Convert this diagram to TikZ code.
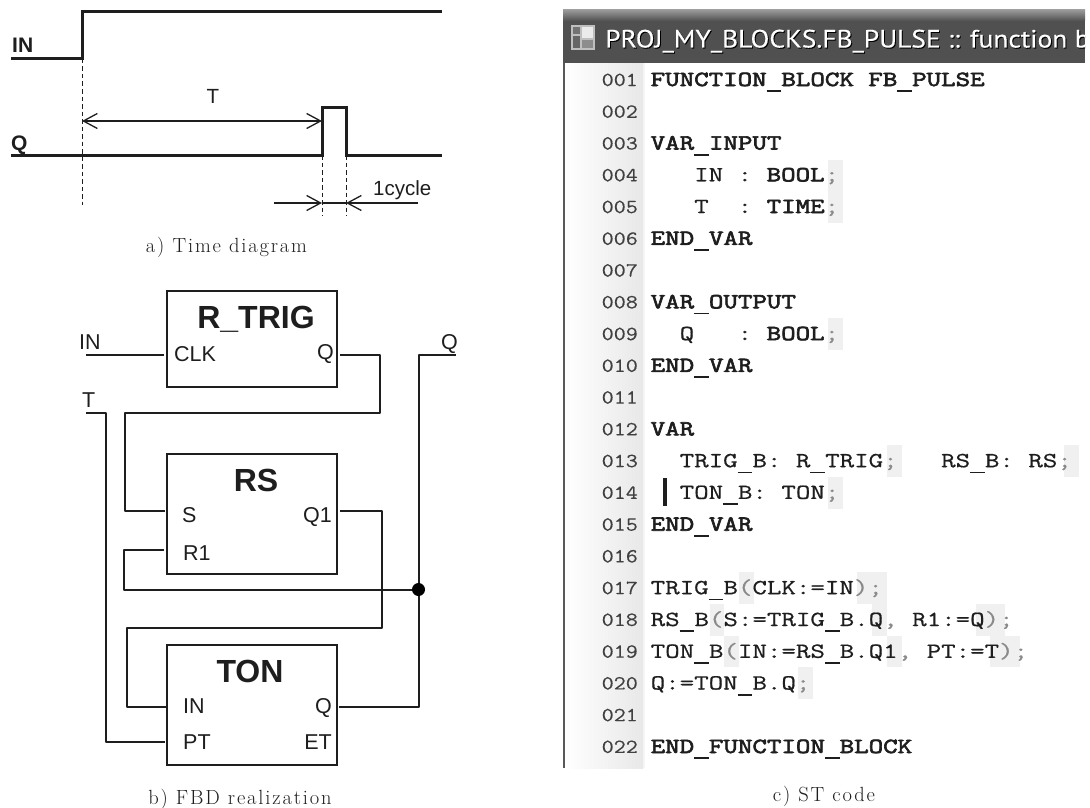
\documentclass[tikz,border=0pt]{standalone}
\usepackage{fontspec}
\usetikzlibrary{arrows.meta}
\setmainfont{Liberation Sans}
\newfontfamily\capfam[LetterSpace=9]{Latin Modern Roman}
\newfontfamily\regfam[FakeStretch=1.309,FakeBold=0.7]{Latin Modern Mono}
\newfontfamily\boldfam[FakeStretch=1.309,FakeBold=3]{Latin Modern Mono}
\newfontfamily\numfam[FakeStretch=1.17,FakeBold=0.3]{Latin Modern Mono}
\newfontfamily\titlefam[FakeStretch=1.10,FakeBold=0.3]{PT Sans}
\newcommand\psz[1]{\fontsize{#1}{#1}\selectfont}
\newcommand\B[1]{{\boldfam #1}}
\newcommand\G[1]{\textcolor{punct}{#1}}
\newcommand\U{\makebox[14.78pt]{\rule[-6pt]{14.8pt}{1.6pt}}}
\newcommand\hlc[4]{\fill[hl] ({650.5+14.78*#1},#3) rectangle ({650.5+14.78*#2},#4);}
\definecolor{ink}{HTML}{1E1E1E}
\definecolor{punct}{HTML}{8A8A8A}
\definecolor{hili}{HTML}{F0F0F0}
\definecolor{titlebar}{HTML}{505050}
\tikzset{
  sig/.style={line width=3pt,draw=ink,line join=miter},
  dashline/.style={line width=.9pt,draw=ink,dash pattern=on 4.5pt off 3pt},
  dim/.style={line width=1.3pt,draw=ink},
  wire/.style={line width=2pt,draw=ink,line join=round},
  block/.style={draw=ink,line width=2.8pt,inner sep=0pt,minimum width=170pt,fill=white},
  lab/.style={inner sep=0pt,text=ink,anchor=base,font=\psz{21.5}},
  labl/.style={lab,anchor=base west},
  labr/.style={lab,anchor=base east},
  head/.style={lab,font=\psz{32}\bfseries},
  tsig/.style={labl,font=\psz{21}\bfseries},
  caption/.style={inner sep=0pt,anchor=base,text=ink,font=\psz{20.5}\capfam},
  code/.style={inner sep=0pt,anchor=base west,text=ink,font=\psz{21.5}\regfam},
  lnum/.style={inner sep=0pt,anchor=base west,text=black!75,font=\psz{20}\numfam},
  hl/.style={fill=hili,draw=none},
}
\begin{document}
\begin{tikzpicture}[x=1pt,y=-1pt]
\useasboundingbox (0,0) rectangle (1090,808);
\fill[white] (0,0) rectangle (1090,808);

% ---------- a) time diagram
\coordinate (inA) at (11,59); \coordinate (inB) at (82,59);
\coordinate (inC) at (82,12); \coordinate (inD) at (442,12);
\coordinate (qA) at (11,155); \coordinate (qB) at (322,155);
\coordinate (qC) at (322,107); \coordinate (qD) at (346,107);
\coordinate (qE) at (346,155); \coordinate (qF) at (442,155);
\coordinate (dA) at (82,205); \coordinate (dB) at (322,216); \coordinate (dC) at (346,216);
\coordinate (tA) at (82,121); \coordinate (tB) at (322,121);
\coordinate (cA) at (274,203); \coordinate (cB) at (322,203);
\coordinate (cC) at (346,203); \coordinate (cD) at (418,203);
\draw[dashline] (inB) -- (dA);
\draw[dashline] (qB) -- (dB);
\draw[dashline] (qE) -- (dC);
\draw[sig] (inA) -- (inB) -- (inC) -- (inD);
\draw[sig] (qA) -- (qB) -- (qC) -- (qD) -- (qE) -- (qF);
\draw[dim,{Straight Barb[length=14pt,width=15pt]}-{Straight Barb[length=14pt,width=15pt]}] (tA) -- (tB);
\draw[dim,-{Straight Barb[length=14pt,width=15pt]}] (cA) -- (cB);
\draw[dim,-{Straight Barb[length=14pt,width=15pt]}] (cD) -- (cC);
\draw[dim] (cB) -- (cC);
\node[tsig] (tIN) at (12,53) {IN};
\node[tsig] (tQ) at (11,150) {Q};
\node[lab,font=\psz{20.5}] (tT) at (213,103) {T};
\node[labl,font=\psz{20.5}] (tCy) at (373,195) {1cycle};
\node[caption] (capA) at (226.5,252) {a) Time diagram};

% ---------- b) FBD
\node[block,minimum height=96pt] (trig) at (252,339) {};
\node[block,minimum height=120pt] (rs) at (252,514) {};
\node[block,minimum height=120pt] (ton) at (252,705) {};
\node[head] (trigN) at (256,328) {R\_TRIG};
\node[head] (rsN) at (256,491) {RS};
\node[head] (tonN) at (250,682) {TON};
\node[labl] (pClk) at (174,361) {CLK};
\node[labr] (pQa) at (334,359) {Q};
\node[labl] (pS) at (182,522) {S};
\node[labr] (pQ1) at (332,522) {Q1};
\node[labl] (pR1) at (183,560) {R1};
\node[labl] (pIN) at (183,713) {IN};
\node[labr] (pQb) at (332,713) {Q};
\node[labl] (pPT) at (183,749) {PT};
\node[labr] (pET) at (332,749) {ET};
\node[labl] (fIN) at (79,349) {IN};
\node[labl] (fT) at (82,407) {T};
\node[labl] (fQ) at (441,349) {Q};
\coordinate (wInS) at (86,355); \coordinate (wInE) at (164,355);
\coordinate (wQaS) at (340,355); \coordinate (wSE) at (165,511);
\coordinate (wTS) at (86,413); \coordinate (wPT) at (165,742);
\coordinate (wR1) at (164,550); \coordinate (wQ1S) at (340,511);
\coordinate (wTIn) at (167,706.5); \coordinate (wQbS) at (339,706.5);
\coordinate (wQE) at (456,355);
\coordinate (jn) at (418.5,589.5);
\draw[wire] (wInS) -- (wInE);
\draw[wire] (wQaS) -- (380,355) -- (380,413) -- (125,413) -- (125,511) -- (wSE);
\draw[wire] (wTS) -- (106,413) -- (106,742) -- (wPT);
\draw[wire] (wR1) -- (124,550) -- (124,589.5) -- (jn);
\draw[wire] (wQ1S) -- (381.5,511) -- (381.5,628) -- (127,628) -- (127,706.5) -- (wTIn);
\draw[wire] (wQbS) -- (418.5,706.5) -- (418.5,355) -- (wQE);
\fill[black] (jn) circle (6.5);
\node[caption] (capB) at (240,804) {b) FBD realization};

% ---------- c) ST code
\begin{scope}
\clip (0,0) rectangle (1085,808);
\shade[left color=white,right color=black!9] (565,63) rectangle (643,768);
\fill[black!4] (643,63) rectangle (644.5,768);
\fill[black!65] (563,63) rectangle (565,768);
\fill[titlebar] (563,21) rectangle (1085,63);
\shade[top color=black!40,bottom color=titlebar] (563,10) rectangle (1085,21);
% icon
\fill[black!25] (571,25) rectangle (595,50);
\fill[black!55] (573,27) rectangle (580,34);
\fill[black!8] (582,27) rectangle (593,38);
\fill[black!60] (573,36) rectangle (580,48);
\fill[black!45] (582,40) rectangle (593,48);
\node[inner sep=0,anchor=base west,text=black,font=\psz{25}\titlefam] (titleS) at (606,48.5) {PROJ\_MY\_BLOCKS.FB\_PULSE :: function b};
\node[inner sep=0,anchor=base west,text=white,font=\psz{25}\titlefam] (title) at (605,47.5) {PROJ\_MY\_BLOCKS.FB\_PULSE :: function b};

% highlights
\hlc{12}{13}{160}{223}
\hlc{12}{13}{318}{350}
\hlc{16}{17}{445}{477}
\hlc{28}{29}{445}{477}
\hlc{12}{13}{477}{509}
\hlc{6}{7}{572}{604}
\hlc{14}{16}{572}{604}
\hlc{4}{5}{604}{636}
\hlc{15}{16}{604}{636}
\hlc{22}{24}{604}{636}
\hlc{5}{6}{636}{667}
\hlc{16}{17}{636}{667}
\hlc{23}{25}{636}{667}
\hlc{10}{11}{667}{699}

% line numbers
\foreach \n [count=\i from 0] in {001,002,003,004,005,006,007,008,009,010,011,012,013,014,015,016,017,018,019,020,021,022}
  \node[lnum] (n\n) at (601.5,{86+31.76*\i}) {\n};

% code
\node[code] (l01) at (650.5,86) {\B{FUNCTION\U BLOCK FB\U PULSE}};
\node[code] (l03) at (650.5,149.5) {\B{VAR\U INPUT}};
\node[code] (l04) at (650.5,181.3) {~~~IN : \B{BOOL}\G{;}};
\node[code] (l05) at (650.5,213) {~~~T~ : \B{TIME}\G{;}};
\node[code] (l06) at (650.5,244.8) {\B{END\U VAR}};
\node[code] (l08) at (650.5,308.3) {\B{VAR\U OUTPUT}};
\node[code] (l09) at (650.5,340.1) {~~Q~~~: \B{BOOL}\G{;}};
\node[code] (l10) at (650.5,371.9) {\B{END\U VAR}};
\node[code] (l12) at (650.5,435.4) {\B{VAR}};
\node[code] (l13) at (650.5,467.2) {~~TRIG\U B: R\U TRIG\G{;}~~~RS\U B: RS\G{;}};
\node[code] (l14) at (650.5,498.9) {~~TON\U B: TON\G{;}};
\node[code] (l15) at (650.5,530.7) {\B{END\U VAR}};
\node[code] (l17) at (650.5,594.2) {TRIG\U B\G{(}CLK:=IN\G{)}\G{;}};
\node[code] (l18) at (650.5,626) {RS\U B\G{(}S:=TRIG\U B.Q\G{,} R1:=Q\G{)}\G{;}};
\node[code] (l19) at (650.5,657.8) {TON\U B\G{(}IN:=RS\U B.Q1\G{,} PT:=T\G{)}\G{;}};
\node[code] (l20) at (650.5,689.5) {Q:=TON\U B.Q\G{;}};
\node[code] (l22) at (650.5,753) {\B{END\U FUNCTION\U BLOCK}};
\fill[ink] (663,478) rectangle (666.5,506);
\end{scope}
\node[caption] (capC) at (824,801) {c) ST code};
\end{tikzpicture}
\end{document}
